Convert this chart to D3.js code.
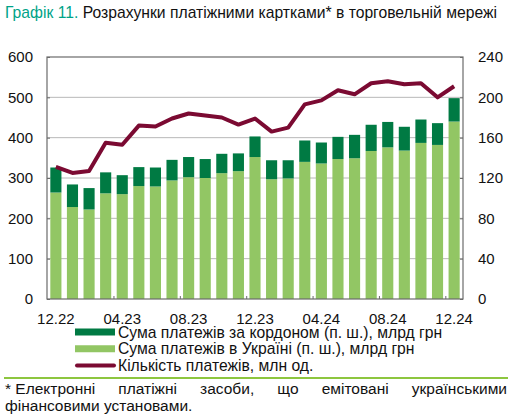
<!DOCTYPE html>
<html>
<head>
<meta charset="utf-8">
<script src="https://cdn.jsdelivr.net/npm/d3@7"></script>
<style>
  body { margin: 0; background: #fff; }
  svg { font-family: "Liberation Sans", Arial, sans-serif; }
</style>
</head>
<body>
<svg id="chart" width="517" height="415"></svg>
<script>
// months, 12.22 .. 12.24
var months = ["12.22","01.23","02.23","03.23","04.23","05.23","06.23","07.23","08.23","09.23","10.23","11.23",
              "12.23","01.24","02.24","03.24","04.24","05.24","06.24","07.24","08.24","09.24","10.24","11.24","12.24"];
// суми платежів, млрд грн
var inUkraine = [264,228,222,262,260,280,279,294,302,300,312,317,352,297,299,340,336,347,349,367,376,368,387,382,440];
var abroad    = [62,56,53,52,47,47,47,51,50,47,48,44,51,47,45,53,52,55,58,65,63,59,58,54,58];
// кількість платежів, млн од.
var count     = [131,125,127,155,153,172,171,179,184,182,180,173,179,166,170,193,197,207,203,214,216,213,214,200,211];

var leftTicks = [0,100,200,300,400,500,600];
var rightTicks = [0,40,80,120,160,200,240];
var xLabels = ["12.22","04.23","08.23","12.23","04.24","08.24","12.24"];

var data = months.map((m, i) => ({m: m, ua: inUkraine[i], ab: abroad[i], n: count[i]}));

var svg = d3.select("#chart");
var pLeft = 47, pRight = 463, pTop = 57, pBottom = 299;

var x = d3.scaleBand().domain(months).range([pLeft, pRight]).paddingInner(0.33).paddingOuter(0.2);
var y = d3.scaleLinear().domain([0, 600]).range([pBottom, pTop]);
var y2 = d3.scaleLinear().domain([0, 240]).range([pBottom, pTop]);

// title
var title = svg.append("text").attr("x", 5).attr("y", 18).attr("font-size", 15.7);
title.append("tspan").attr("fill", "#00a388").text("Графік 11. ");
title.append("tspan").attr("fill", "#111").text("Розрахунки платіжними картками* в торговельній мережі");

// grid
svg.append("g").selectAll("line").data(leftTicks.slice(1, -1)).join("line")
  .attr("x1", pLeft).attr("x2", pRight)
  .attr("y1", d => y(d)).attr("y2", d => y(d))
  .attr("stroke", "#b8b8b8").attr("stroke-width", 1);

// bars
var bars = svg.append("g").selectAll("g").data(data).join("g");
bars.append("rect")
  .attr("x", d => x(d.m)).attr("width", x.bandwidth())
  .attr("y", d => y(d.ua)).attr("height", d => y(0) - y(d.ua))
  .attr("fill", "#92c664");
bars.append("rect")
  .attr("x", d => x(d.m)).attr("width", x.bandwidth())
  .attr("y", d => y(d.ua + d.ab)).attr("height", d => y(d.ua) - y(d.ua + d.ab))
  .attr("fill", "#007a43");

// frame
svg.append("rect").attr("x", pLeft).attr("y", pTop).attr("width", pRight - pLeft).attr("height", pBottom - pTop)
  .attr("fill", "none").attr("stroke", "#6b6b6b").attr("stroke-width", 1.2);

// axes
var yAxis = d3.axisLeft(y).tickValues(leftTicks).tickSize(-3).tickPadding(14);
svg.append("g").attr("transform", `translate(${pLeft},0)`).call(yAxis)
  .call(g => g.select(".domain").remove())
  .call(g => g.selectAll("line").attr("stroke", "#6b6b6b"))
  .call(g => g.selectAll("text").attr("font-size", 15).attr("fill", "#111").attr("font-family", "Liberation Sans, Arial, sans-serif"));

var yAxis2 = d3.axisRight(y2).tickValues(rightTicks).tickSize(-3).tickPadding(15);
svg.append("g").attr("transform", `translate(${pRight},0)`).call(yAxis2)
  .call(g => g.select(".domain").remove())
  .call(g => g.selectAll("line").attr("stroke", "#6b6b6b"))
  .call(g => g.selectAll("text").attr("font-size", 15).attr("fill", "#111").attr("font-family", "Liberation Sans, Arial, sans-serif"));

// x ticks between groups of 4 months
var step = x.step();
svg.append("g").selectAll("line").data(xLabels.slice(1)).join("line")
  .attr("x1", d => x(d) - (step - x.bandwidth()) / 2).attr("x2", d => x(d) - (step - x.bandwidth()) / 2)
  .attr("y1", pBottom).attr("y2", pBottom - 3)
  .attr("stroke", "#6b6b6b");
svg.append("g").selectAll("text").data(xLabels).join("text")
  .attr("x", d => x(d) + x.bandwidth() / 2).attr("y", 324)
  .attr("text-anchor", "middle").attr("font-size", 15).attr("fill", "#111")
  .text(d => d);

// line
var line = d3.line().x(d => x(d.m) + x.bandwidth() / 2).y(d => y2(d.n));
svg.append("path").datum(data).attr("d", line)
  .attr("fill", "none").attr("stroke", "#7b0a32").attr("stroke-width", 4).attr("stroke-linejoin", "round");

// legend
var legend = [
  {label: "Сума платежів за кордоном (п. ш.), млрд грн", color: "#007a43", type: "bar"},
  {label: "Сума платежів в Україні (п. ш.), млрд грн", color: "#92c664", type: "bar"},
  {label: "Кількість платежів, млн од.", color: "#7b0a32", type: "line"}
];
var lg = svg.append("g").selectAll("g").data(legend).join("g")
  .attr("transform", (d, i) => `translate(0,${332 + i * 16.7})`);
lg.append("line").attr("x1", d => d.type == "line" ? 77 : 75).attr("x2", d => d.type == "line" ? 114 : 115)
  .attr("stroke", d => d.color).attr("stroke-width", d => d.type == "line" ? 4 : 7)
  .attr("stroke-linecap", d => d.type == "line" ? "round" : "butt");
lg.append("text").attr("x", 118).attr("y", 5.5).attr("font-size", 15.7).attr("fill", "#111").text(d => d.label);

// separator
svg.append("line").attr("x1", 4).attr("x2", 508).attr("y1", 378).attr("y2", 378)
  .attr("stroke", "#8dc63f").attr("stroke-width", 2);

// footnote (justified first line)
var words = ["* Електронні", "платіжні", "засоби,", "що", "емітовані", "українськими"];
var fx0 = 5, fx1 = 507;
var fn = svg.append("g").attr("font-size", 15.5).attr("fill", "#111");
var ws = fn.selectAll("text").data(words).join("text").attr("y", 394).text(d => d);
var widths = [];
ws.each(function() { widths.push(this.getComputedTextLength()); });
var gap = (fx1 - fx0 - d3.sum(widths)) / (words.length - 1);
var cx = fx0;
ws.each(function(d, i) { d3.select(this).attr("x", cx); cx += widths[i] + gap; });
fn.append("text").attr("x", fx0).attr("y", 411).text("фінансовими установами.");
</script>
</body>
</html>
